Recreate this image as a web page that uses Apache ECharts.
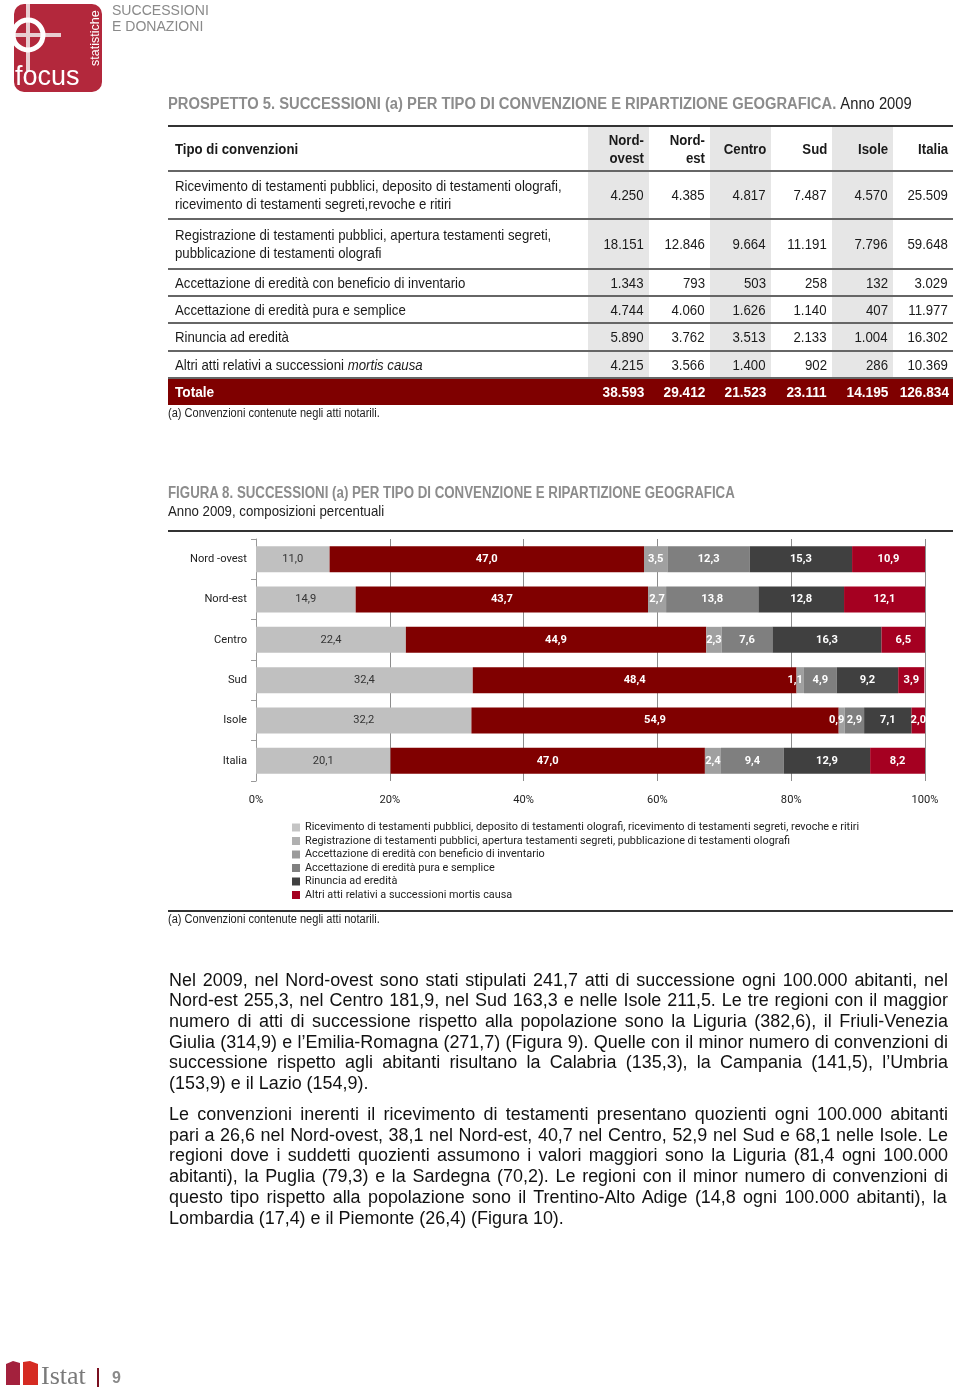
<!DOCTYPE html>
<html>
<head>
<meta charset="utf-8">
<script src="https://cdn.jsdelivr.net/npm/echarts@6/dist/echarts.min.js"></script>
<style>
  html, body { margin:0; padding:0; background:#fff; }
  #page { position:relative; width:960px; height:1388px; overflow:hidden;
          font-family:"Liberation Sans",Arial,sans-serif; color:#1a1a1a; }
  #chart { position:absolute; left:0; top:0; width:960px; height:1388px; }
  .abs { position:absolute; white-space:nowrap; }
  .fit { transform-origin:left center; }
  .hr { position:absolute; left:168px; width:785px; height:2px; background:#333; }
  table.t { position:absolute; left:168px; top:125px; width:785px; border-collapse:collapse; table-layout:fixed; font-size:15px; }
  table.t td { padding:0 0 0 7px; vertical-align:middle; border-top:2px solid #666; line-height:18px; white-space:nowrap; overflow:visible; }
  table.t td.n { text-align:right; padding:0 5px 0 0; }
  table.t td.s { background:#e6e6e6; }
  table.t tr.h td { border-top:2px solid #333; font-weight:bold; }
  table.t tr.tot td { background:#7f0000; color:#fff; font-weight:bold; font-size:15.5px; }
  table.t span.c { display:inline-block; transform-origin:left center; }
  table.t td.n span.c { transform-origin:right center; }
  .pl { position:absolute; left:169px; white-space:nowrap; font-family:"Liberation Sans",Arial,sans-serif; line-height:20.7px; height:20.7px; color:#111; transform-origin:left center; }
</style>
</head>
<body>
<div id="page">
  <div id="chart"></div>

  <svg class="abs" style="left:0;top:0" width="110" height="96">
    <rect x="14" y="4" width="88" height="88" rx="10" fill="#b3283c"/>
    <line x1="28" y1="4" x2="28" y2="71" stroke="#e8cdd1" stroke-width="4"/>
    <line x1="14" y1="35" x2="61" y2="35" stroke="#e8cdd1" stroke-width="4"/>
    <circle cx="28" cy="35" r="15" fill="none" stroke="#fff" stroke-width="5"/>
    <text x="15" y="85" font-family="Liberation Sans, Arial, sans-serif" font-size="27" fill="#fff">focus</text>
    <text transform="translate(99,66) rotate(-90)" font-family="Liberation Sans, Arial, sans-serif" font-size="12.5" fill="#fff">statistiche</text>
  </svg>
  <div class="abs fit" data-w="97" style="left:112px;top:2px;font-size:15.5px;line-height:16px;color:#8a8a8a">SUCCESSIONI<br>E DONAZIONI</div>

  <div class="abs fit" data-w="744" style="left:168px;top:95px;font-size:16px;color:#8c8c8c;font-weight:bold">PROSPETTO 5. SUCCESSIONI (a) PER TIPO DI CONVENZIONE E RIPARTIZIONE GEOGRAFICA. <span style="color:#222;font-weight:normal">Anno 2009</span></div>

  <table class="t" id="tab"></table>
  <div class="abs fit" data-w="212" style="left:168px;top:406px;font-size:12.5px;color:#222">(a) Convenzioni contenute negli atti notarili.</div>

  <div class="abs fit" data-w="567" style="left:168px;top:484px;font-size:16px;color:#8c8c8c;font-weight:bold">FIGURA 8. SUCCESSIONI (a) PER TIPO DI CONVENZIONE E RIPARTIZIONE GEOGRAFICA</div>
  <div class="abs fit" data-w="216" style="left:168px;top:502px;font-size:15px;color:#222">Anno 2009, composizioni percentuali</div>
  <div class="hr" style="top:530px"></div>
  <div class="hr" style="top:910px;height:1.5px"></div>
  <div class="abs fit" data-w="212" style="left:168px;top:912px;font-size:12.5px;color:#222">(a) Convenzioni contenute negli atti notarili.</div>

  <div id="paras"></div>

  <svg class="abs" style="left:0;top:1355px" width="140" height="33">
    <path d="M6 9 L13 6 L20 8 L20 30 L6 30 Z" fill="#a3213d"/>
    <path d="M23 7 L30 6 L38 9 L38 30 L23 30 Z" fill="#d52b22"/>
    <text x="41" y="29" font-family="Liberation Serif, DejaVu Serif, serif" font-size="26" fill="#7a7a7a">Istat</text>
    <rect x="97" y="13" width="2" height="19" fill="#7a1020"/>
    <text x="112" y="28" font-family="Liberation Sans, Arial, sans-serif" font-size="16" font-weight="bold" fill="#8a8a8a">9</text>
  </svg>
</div>
<script>
// ---------- Table data (Prospetto 5) ----------
const tableRegions = ['Nord-<br>ovest', 'Nord-<br>est', 'Centro', 'Sud', 'Isole', 'Italia'];
const tableRowLabels = [
  'Ricevimento di testamenti pubblici, deposito di testamenti olografi,<br>ricevimento di testamenti segreti,revoche e ritiri',
  'Registrazione di testamenti pubblici, apertura testamenti segreti,<br>pubblicazione di testamenti olografi',
  'Accettazione di eredità con beneficio di inventario',
  'Accettazione di eredità pura e semplice',
  'Rinuncia ad eredità',
  'Altri atti relativi a successioni <i>mortis causa</i>'
];
const rowRicevimento   = ['4.250', '4.385', '4.817', '7.487', '4.570', '25.509'];
const rowRegistrazione = ['18.151', '12.846', '9.664', '11.191', '7.796', '59.648'];
const rowBeneficio     = ['1.343', '793', '503', '258', '132', '3.029'];
const rowPura          = ['4.744', '4.060', '1.626', '1.140', '407', '11.977'];
const rowRinuncia      = ['5.890', '3.762', '3.513', '2.133', '1.004', '16.302'];
const rowAltri         = ['4.215', '3.566', '1.400', '902', '286', '10.369'];
const rowTotale        = ['38.593', '29.412', '21.523', '23.111', '14.195', '126.834'];

// ---------- Chart data (Figura 8) ----------
const categories = ['Nord -ovest', 'Nord-est', 'Centro', 'Sud', 'Isole', 'Italia'];
const seriesNames = [
  'Ricevimento di testamenti pubblici, deposito di testamenti olografi, ricevimento di testamenti segreti, revoche e ritiri',
  'Registrazione di testamenti pubblici, apertura testamenti segreti, pubblicazione di testamenti olografi',
  'Accettazione di eredità con beneficio di inventario',
  'Accettazione di eredità pura e semplice',
  'Rinuncia ad eredità',
  'Altri atti relativi a successioni mortis causa'
];
const ricevimento   = [11.0, 14.9, 22.4, 32.4, 32.2, 20.1];
const registrazione = [47.0, 43.7, 44.9, 48.4, 54.9, 47.0];
const beneficio     = [3.5, 2.7, 2.3, 1.1, 0.9, 2.4];
const puraSemplice  = [12.3, 13.8, 7.6, 4.9, 2.9, 9.4];
const rinuncia      = [15.3, 12.8, 16.3, 9.2, 7.1, 12.9];
const altri         = [10.9, 12.1, 6.5, 3.9, 2.0, 8.2];
const xTickLabels   = ['0%', '20%', '40%', '60%', '80%', '100%'];

// ---------- Body text (line breaks as in the page) ----------
const para1Lines = [
  'Nel 2009, nel Nord-ovest sono stati stipulati 241,7 atti di successione ogni 100.000 abitanti, nel',
  'Nord-est 255,3, nel Centro 181,9, nel Sud 163,3 e nelle Isole 211,5. Le tre regioni con il maggior',
  'numero di atti di successione rispetto alla popolazione sono la Liguria (382,6), il Friuli-Venezia',
  'Giulia (314,9) e l’Emilia-Romagna (271,7) (Figura 9). Quelle con il minor numero di convenzioni di',
  'successione rispetto agli abitanti risultano la Calabria (135,3), la Campania (141,5), l’Umbria',
  '(153,9) e il Lazio (154,9).'
];
const para2Lines = [
  'Le convenzioni inerenti il ricevimento di testamenti presentano quozienti ogni 100.000 abitanti',
  'pari a 26,6 nel Nord-ovest, 38,1 nel Nord-est, 40,7 nel Centro, 52,9 nel Sud e 68,1 nelle Isole. Le',
  'regioni dove i suddetti quozienti assumono i valori maggiori sono la Liguria (81,4 ogni 100.000',
  'abitanti), la Puglia (79,3) e la Sardegna (70,2). Le regioni con il minor numero di convenzioni di',
  'questo tipo rispetto alla popolazione sono il Trentino-Alto Adige (14,8 ogni 100.000 abitanti), la',
  'Lombardia (17,4) e il Piemonte (26,4) (Figura 10).'
];

// ---------- build table ----------
(function () {
  const heights = [45, 48, 50, 27, 27, 28, 27, 27];
  const shaded = [true, false, true, false, true, false];
  const rows = [rowRicevimento, rowRegistrazione, rowBeneficio, rowPura, rowRinuncia, rowAltri];
  const sp = t => '<span class="c">' + t + '</span>';
  let html = '<colgroup><col style="width:420px"><col style="width:61px"><col style="width:61px"><col style="width:61px"><col style="width:61px"><col style="width:61px"><col style="width:60px"></colgroup>';
  html += '<tr class="h" style="height:' + heights[0] + 'px"><td>' + sp('Tipo di convenzioni') + '</td>' +
    tableRegions.map((r, i) => '<td class="n' + (shaded[i] ? ' s' : '') + '">' + sp(r) + '</td>').join('') + '</tr>';
  rows.forEach((vals, ri) => {
    html += '<tr style="height:' + heights[ri + 1] + 'px"><td' + (ri === 2 ? ' id="refcell"' : '') + '>' + sp(tableRowLabels[ri]) + '</td>' +
      vals.map((v, i) => '<td class="n' + (shaded[i] ? ' s' : '') + '">' + sp(v) + '</td>').join('') + '</tr>';
  });
  html += '<tr class="tot" style="height:' + heights[7] + 'px"><td>' + sp('Totale') + '</td>' +
    rowTotale.map(v => '<td class="n">' + sp(v) + '</td>').join('') + '</tr>';
  document.getElementById('tab').innerHTML = html;
  const ref = document.querySelector('#refcell span.c');
  const s = 290 / ref.offsetWidth;
  document.querySelectorAll('table.t span.c').forEach(e => { e.style.transform = 'scaleX(' + s + ')'; });
})();

document.querySelectorAll('.fit[data-w]').forEach(el => {
  el.style.transform = 'scaleX(' + (parseFloat(el.dataset.w) / el.offsetWidth) + ')';
});

const mctx = document.createElement('canvas').getContext('2d');
function measure(font, txt) { mctx.font = font; return mctx.measureText(txt).width; }

// ---------- paragraphs, justified line by line ----------
(function () {
  const fs = 100 * 395 / measure('100px "Liberation Sans"', para2Lines[5]);
  const font = fs + 'px "Liberation Sans"';
  const W = 779;
  const host = document.getElementById('paras');
  function put(lines, top) {
    lines.forEach((ln, i) => {
      const d = document.createElement('div');
      d.className = 'pl';
      d.style.top = (top + i * 20.7) + 'px';
      d.style.fontSize = fs + 'px';
      d.textContent = ln;
      const w = measure(font, ln);
      if (i < lines.length - 1) {
        const spaces = (ln.match(/ /g) || []).length;
        if (w <= W) d.style.wordSpacing = ((W - w) / spaces) + 'px';
        else d.style.transform = 'scaleX(' + (W / w) + ')';
      }
      host.appendChild(d);
    });
  }
  put(para1Lines, 969.5);
  put(para2Lines, 1104);
})();

const FONT = 'Roboto, "Liberation Sans", sans-serif';
const axisFs = Math.min(13, 12 * 57 / measure('12px Roboto', 'Nord -ovest'));
const legendFs = Math.min(13, 12 * 555 / measure('12px Roboto', seriesNames[0]));

const seriesData = [ricevimento, registrazione, beneficio, puraSemplice, rinuncia, altri];
const barColors = ['#c0c0c0', '#800000', '#a0a0a0', '#7f7f7f', '#404040', '#a50021'];
const legendColors = ['#c4c4c4', '#b0b0b0', '#9a9a9a', '#808080', '#404040', '#a50021'];

const fmt = p => p.value.toFixed(1).replace('.', ',');

const chart = echarts.init(document.getElementById('chart'));
chart.setOption({
  animation: false,
  textStyle: { fontFamily: FONT },
  grid: { left: 256, width: 669, top: 539, height: 242, containLabel: false },
  xAxis: {
    type: 'value', min: 0, max: 100, interval: 20,
    axisLine: { show: false }, axisTick: { show: false },
    axisLabel: { color: '#222', fontSize: axisFs, margin: 14, fontFamily: FONT,
      formatter: (v) => xTickLabels[Math.round(v / 20)] },
    splitLine: { show: true, lineStyle: { color: '#8c8c8c', width: 1 } }
  },
  yAxis: {
    type: 'category', data: categories, inverse: true,
    axisLine: { show: true, lineStyle: { color: '#999', width: 1 } },
    axisTick: { show: true, length: 5, lineStyle: { color: '#999' } },
    axisLabel: { color: '#222', fontSize: axisFs, margin: 9, fontFamily: FONT }
  },
  legend: {
    orient: 'vertical', left: 292, top: 821, padding: 0,
    itemWidth: 8, itemHeight: 8, itemGap: 0.5,
    icon: 'rect',
    textStyle: { color: '#222', fontSize: legendFs, lineHeight: 13, fontFamily: FONT },
    data: seriesNames.map((n, i) => ({ name: n, itemStyle: { color: legendColors[i] } }))
  },
  series: seriesData.map((d, i) => ({
    name: seriesNames[i], type: 'bar', stack: 'tot', barWidth: 26,
    data: d.map(v => v < 1.5 ? { value: v, label: { offset: [-5, 0] } } : v),
    itemStyle: { color: barColors[i] },
    label: {
      show: true, position: 'inside', formatter: fmt, fontSize: axisFs, fontFamily: FONT,
      color: i === 0 ? '#333' : '#fff', fontWeight: i === 0 ? 'normal' : 'bold'
    }
  }))
});
</script>
</body>
</html>
